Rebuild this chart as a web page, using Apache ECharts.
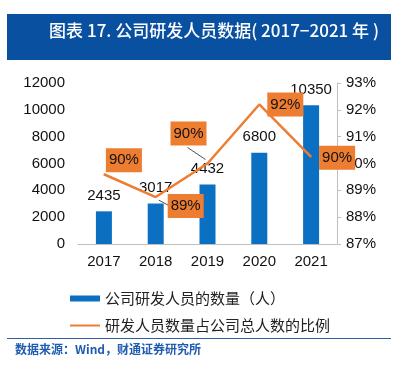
<!DOCTYPE html>
<html><head><meta charset="utf-8">
<script src="https://cdn.jsdelivr.net/npm/echarts@6/dist/echarts.min.js"></script>
<style>html,body{margin:0;padding:0;background:#fff}#c{width:393px;height:365px}</style>
</head><body><div id="c"></div>
<script>
var years = ['2017','2018','2019','2020','2021'];
var staffCount = [2435, 3017, 4432, 6800, 10350];
var staffRatio = [89.6, 88.75, 90.0, 92.2, 90.25];
var ratioLabels = ['90%','89%','90%','92%','90%'];
var leftTicks = [0, 12000, 2000];
var rightTicks = [87, 93, 1];

var chart = echarts.init(document.getElementById('c'));
var FONT = '"Liberation Sans", Arial, sans-serif';
var labelOffsets = [[20,-14],[30,9],[-19,-30],[26,0],[26,1]];
var guideSegs = {1: [[3,3],[14,9]], 2: [[-20,-16],[-2,-4]]};
var ratioData = staffRatio.map(function(v,i){
  return {value: v, label: {formatter: ratioLabels[i]}};
});
var guideData = [1,2].map(function(i){ return [i, staffRatio[i]]; });
chart.setOption({
  animation: false,
  textStyle: {fontFamily: FONT},
  title: {
    text: '图表 17. 公司研发人员数据( 2017−2021 年 )',
    right: 9, top: 17,
    textStyle: {color: '#fff', fontSize: 17, fontWeight: 500, fontFamily: '"Noto Sans CJK SC", sans-serif'}
  },
  graphic: [
    {type: 'rect', z: -1, shape: {x: 7, y: 14, width: 384, height: 46}, style: {fill: '#0A50A1'}},
    {type: 'rect', shape: {x: 7, y: 338, width: 384, height: 1}, style: {fill: '#2F5EA5'}},
    {type: 'text', left: 15, top: 343, style: {text: '数据来源：Wind，财通证券研究所', fill: '#1F5BB0', font: 'bold 12px "Noto Sans CJK SC", sans-serif'}}
  ],
  legend: {
    orient: 'vertical', left: 64, top: 286, itemGap: 12,
    itemWidth: 30, itemHeight: 6,
    textStyle: {fontSize: 15, color: '#222', fontFamily: '"Noto Sans CJK SC", serif'},
    data: [
      {name: '公司研发人员的数量（人）', icon: 'rect'},
      {name: '研发人员数量占公司总人数的比例', itemStyle: {opacity: 0}}
    ]
  },
  grid: {left: 78, right: 56, top: 83, bottom: 121},
  xAxis: {
    type: 'category', data: years,
    axisLine: {lineStyle: {color: '#BFBFBF'}},
    axisTick: {show: false},
    axisLabel: {color: '#111', fontSize: 15, margin: 10}
  },
  yAxis: [
    {
      type: 'value', min: leftTicks[0], max: leftTicks[1], interval: leftTicks[2],
      splitLine: {show: false}, axisLine: {show: false}, axisTick: {show: false},
      axisLabel: {color: '#111', fontSize: 15, margin: 13, formatter: function(v){ return String(v); }}
    },
    {
      type: 'value', position: 'right', min: rightTicks[0], max: rightTicks[1], interval: rightTicks[2],
      splitLine: {show: false},
      axisLine: {show: true, lineStyle: {color: '#BFBFBF'}},
      axisTick: {show: true, length: 4, lineStyle: {color: '#BFBFBF'}},
      axisLabel: {color: '#111', fontSize: 15, margin: 9, formatter: '{value}%'}
    }
  ],
  series: [
    {
      name: '公司研发人员的数量（人）', type: 'bar', data: staffCount,
      barWidth: 16, itemStyle: {color: '#0B6FC2'},
      label: {show: true, position: 'top', distance: 8, color: '#111', fontSize: 15}
    },
    {
      name: 'guide', type: 'custom', yAxisIndex: 1, data: guideData, z: 4, silent: true,
      renderItem: function(params, api){
        var idx = api.value(0);
        var p = api.coord([idx, api.value(1)]);
        var s = guideSegs[idx];
        return {type: 'line', shape: {x1: p[0]+s[0][0], y1: p[1]+s[0][1], x2: p[0]+s[1][0], y2: p[1]+s[1][1]},
          style: {stroke: '#222', lineWidth: 0.8}};
      }
    },
    {
      name: '研发人员数量占公司总人数的比例', type: 'line', yAxisIndex: 1, data: ratioData,
      symbol: 'circle', symbolSize: 1, showSymbol: true,
      lineStyle: {color: '#ED7D31', width: 2.5}, itemStyle: {color: '#ED7D31'},
      z: 5,
      label: {show: true, position: 'inside', backgroundColor: '#ED7D31', color: '#111', fontSize: 15,
        padding: [5, 3, 4, 3]},
      labelLayout: function(p){
        var o = labelOffsets[p.dataIndex];
        return {dx: o[0], dy: o[1]};
      }
    }
  ]
});
</script></body></html>
